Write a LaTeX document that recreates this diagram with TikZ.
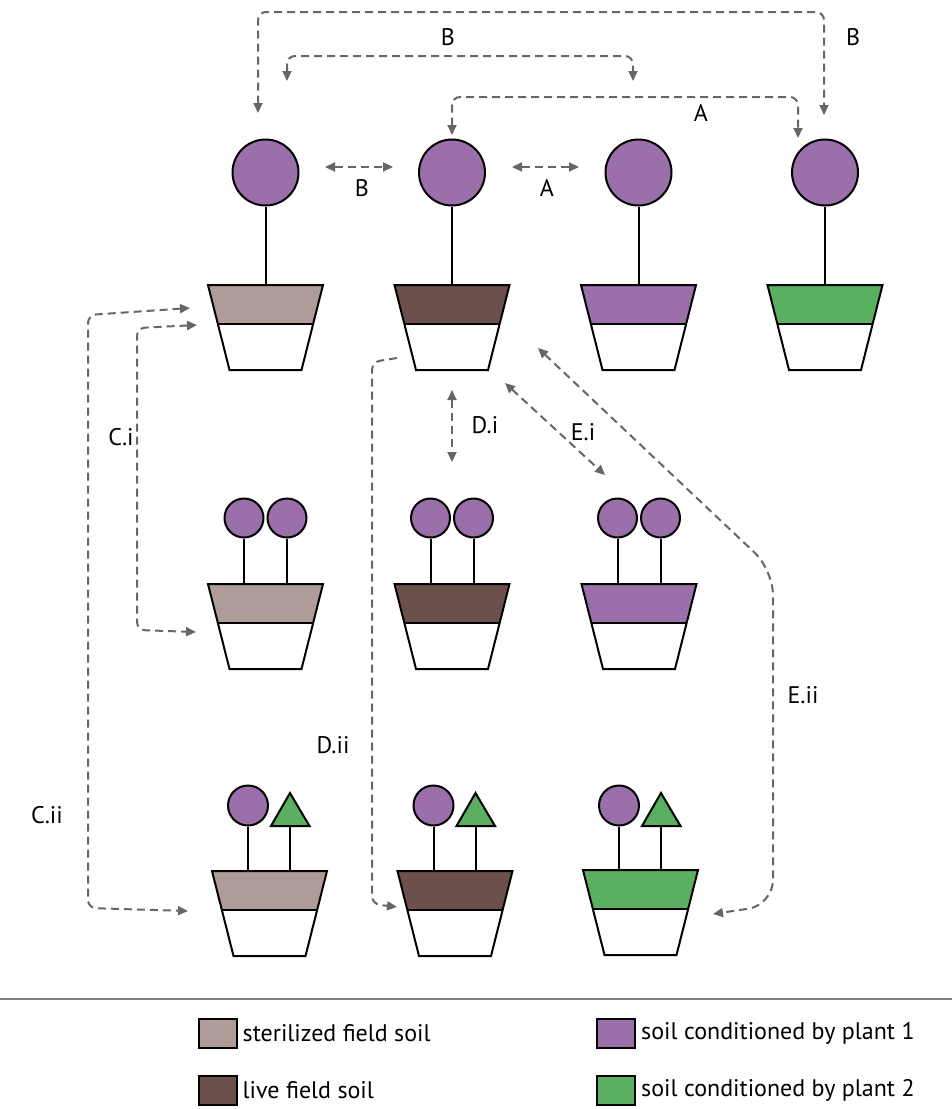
\documentclass[tikz,border=0pt]{standalone}
\usepackage{fontspec}
\setmainfont{PT Sans}
\usetikzlibrary{arrows.meta}
\definecolor{sterile}{RGB}{173,156,152}
\definecolor{live}{RGB}{107,80,75}
\definecolor{plantA}{RGB}{155,112,170}
\definecolor{plantB}{RGB}{90,175,96}
\definecolor{conngray}{RGB}{102,102,102}
\definecolor{sepgray}{RGB}{128,128,128}
\tikzset{
  potline/.style={line width=2pt, line join=miter},
  flower/.style={circle, draw=black, line width=2pt, fill=plantA, inner sep=0pt},
  conn/.style={draw=conngray, line width=2pt, dash pattern=on 8pt off 5pt, rounded corners=8pt},
  both/.style={{Triangle[length=10pt,width=9pt]}-{Triangle[length=10pt,width=9pt]}},
  one/.style={-{Triangle[length=10pt,width=9pt]}},
  lbl/.style={font=\fontsize{24}{28}\selectfont, inner sep=0pt},
  legbox/.style={draw=black, line width=2pt, minimum width=38pt, minimum height=29pt, inner sep=0pt},
}
\newcommand\drawpot[4]{%
\begin{scope}[shift={(#2,#3)}]
 \fill[#4] (-57.5,0) -- (57.5,0) -- (47.6,39) -- (-47.6,39) -- cycle;
 \draw[potline] (-57.5,0) -- (57.5,0) -- (36,85) -- (-36,85) -- cycle;
 \draw[potline] (-47.6,39) -- (47.6,39);
 \coordinate (#1) at (0,0);
\end{scope}}
\newcommand\twoflowers[3]{% name x ytop of pot
 \node[flower, minimum size=39pt] (#1a) at (#2-21.5,518) {};
 \node[flower, minimum size=39pt] (#1b) at (#2+21.5,518) {};
 \draw[potline] (#1a.south) -- (#2-21.5,#3);
 \draw[potline] (#1b.south) -- (#2+21.5,#3);
}
\newcommand\mixflowers[3]{% name x ytop of pot
 \node[flower, minimum size=40pt] (#1a) at (#2-21.5,805.5) {};
 \draw[potline, fill=plantB] (#2+1.5,826) -- (#2+20.5,793) -- (#2+40,826) -- cycle;
 \coordinate (#1b) at (#2+20.5,826);
 \draw[potline] (#1a.south) -- (#2-21.5,#3);
 \draw[potline] (#1b) -- (#2+20.5,#3);
}
\begin{document}
\begin{tikzpicture}[x=1pt,y=-1pt]
\useasboundingbox (0,0) rectangle (952,1109);
% row 1
\drawpot{p1}{265.5}{285}{sterile}
\drawpot{p2}{452}{285}{live}
\drawpot{p3}{638.5}{285}{plantA}
\drawpot{p4}{825}{285}{plantB}
\node[flower, minimum size=66pt] (f1) at (265.5,172.5) {};
\node[flower, minimum size=66pt] (f2) at (452,172.5) {};
\node[flower, minimum size=66pt] (f3) at (638.5,172.5) {};
\node[flower, minimum size=66pt] (f4) at (825,172.5) {};
\foreach \i in {1,2,3,4} {\draw[potline] (f\i.south) -- (p\i);}
% row 2
\drawpot{q1}{265.5}{584}{sterile}
\drawpot{q2}{452}{584}{live}
\drawpot{q3}{639}{584}{plantA}
\twoflowers{g1}{265.5}{584}
\twoflowers{g2}{452}{584}
\twoflowers{g3}{639}{584}
% row 3
\drawpot{r1}{269.5}{871}{sterile}
\drawpot{r2}{455}{871}{live}
\drawpot{r3}{640.5}{870}{plantB}
\mixflowers{h1}{269.5}{871}
\mixflowers{h2}{455}{871}
\mixflowers{h3}{640.5}{870}
% connector end points
\coordinate (bo1) at (258,113);   \coordinate (bo2) at (824,115);
\coordinate (bm1) at (287,81);    \coordinate (bm2) at (633,81);
\coordinate (a1) at (452,135);    \coordinate (a2) at (798,138);
\coordinate (bs1) at (325,167);   \coordinate (bs2) at (393,167);
\coordinate (as1) at (512,167);   \coordinate (as2) at (579,167);
\coordinate (ci1) at (197,325);   \coordinate (ci2) at (196,632);
\coordinate (cii1) at (190,308);  \coordinate (cii2) at (188,911);
\coordinate (di1) at (452,390);   \coordinate (di2) at (452,462);
\coordinate (dii1) at (397,358);  \coordinate (dii2) at (397,907);
\coordinate (ei1) at (505,383);   \coordinate (ei2) at (605,475);
\coordinate (eii1) at (538,348);  \coordinate (eii2) at (713,914);
% connectors
\draw[conn,both] (bo1) -- (258,12) -- (824,12) -- (bo2);
\draw[conn,both] (bm1) -- (287,56) -- (633,56) -- (bm2);
\draw[conn,both] (a1) -- (452,97) -- (798,97) -- (a2);
\draw[conn,both] (bs1) -- (bs2);
\draw[conn,both] (as1) -- (as2);
\draw[conn,both] (ci1) -- (137,328) -- (137,630) -- (ci2);
\draw[conn,both] (cii1) -- (88,315) -- (88,908) -- (cii2);
\draw[conn,both] (di1) -- (di2);
\draw[conn,one] (dii1) -- (372,362) -- (372,904) -- (dii2);
\draw[conn,both] (ei1) -- (ei2);
\draw[conn,both,rounded corners=25pt] (eii1) -- (773,570) -- (773,905) -- (eii2);
% labels
\node[lbl] (lB1) at (448,37) {B};
\node[lbl] (lB2) at (853,37) {B};
\node[lbl] (lA1) at (701,113) {A};
\node[lbl] (lB3) at (362,188) {B};
\node[lbl] (lA2) at (547,188) {A};
\node[lbl] (lCi) at (121,437) {C.i};
\node[lbl] (lDi) at (485,425) {D.i};
\node[lbl] (lEi) at (583,432) {E.i};
\node[lbl] (lCii) at (47,815) {C.ii};
\node[lbl] (lDii) at (333,745) {D.ii};
\node[lbl] (lEii) at (803,695) {E.ii};
% separator
\draw[sepgray, line width=2pt] (0,999) -- (952,999);
% legend
\node[legbox, fill=sterile] (k1) at (217.5,1033) {};
\node[legbox, fill=live] (k2) at (217.5,1090) {};
\node[legbox, fill=plantA] (k3) at (616,1033) {};
\node[legbox, fill=plantB] (k4) at (616,1090) {};
\node[lbl, anchor=west] (t1) at ([xshift=5pt]k1.east) {sterilized field soil};
\node[lbl, anchor=west] (t2) at ([xshift=5pt]k2.east) {live field soil};
\node[lbl, anchor=west] (t3) at ([xshift=5pt]k3.east) {soil conditioned by plant 1};
\node[lbl, anchor=west] (t4) at ([xshift=5pt]k4.east) {soil conditioned by plant 2};
\end{tikzpicture}
\end{document}
